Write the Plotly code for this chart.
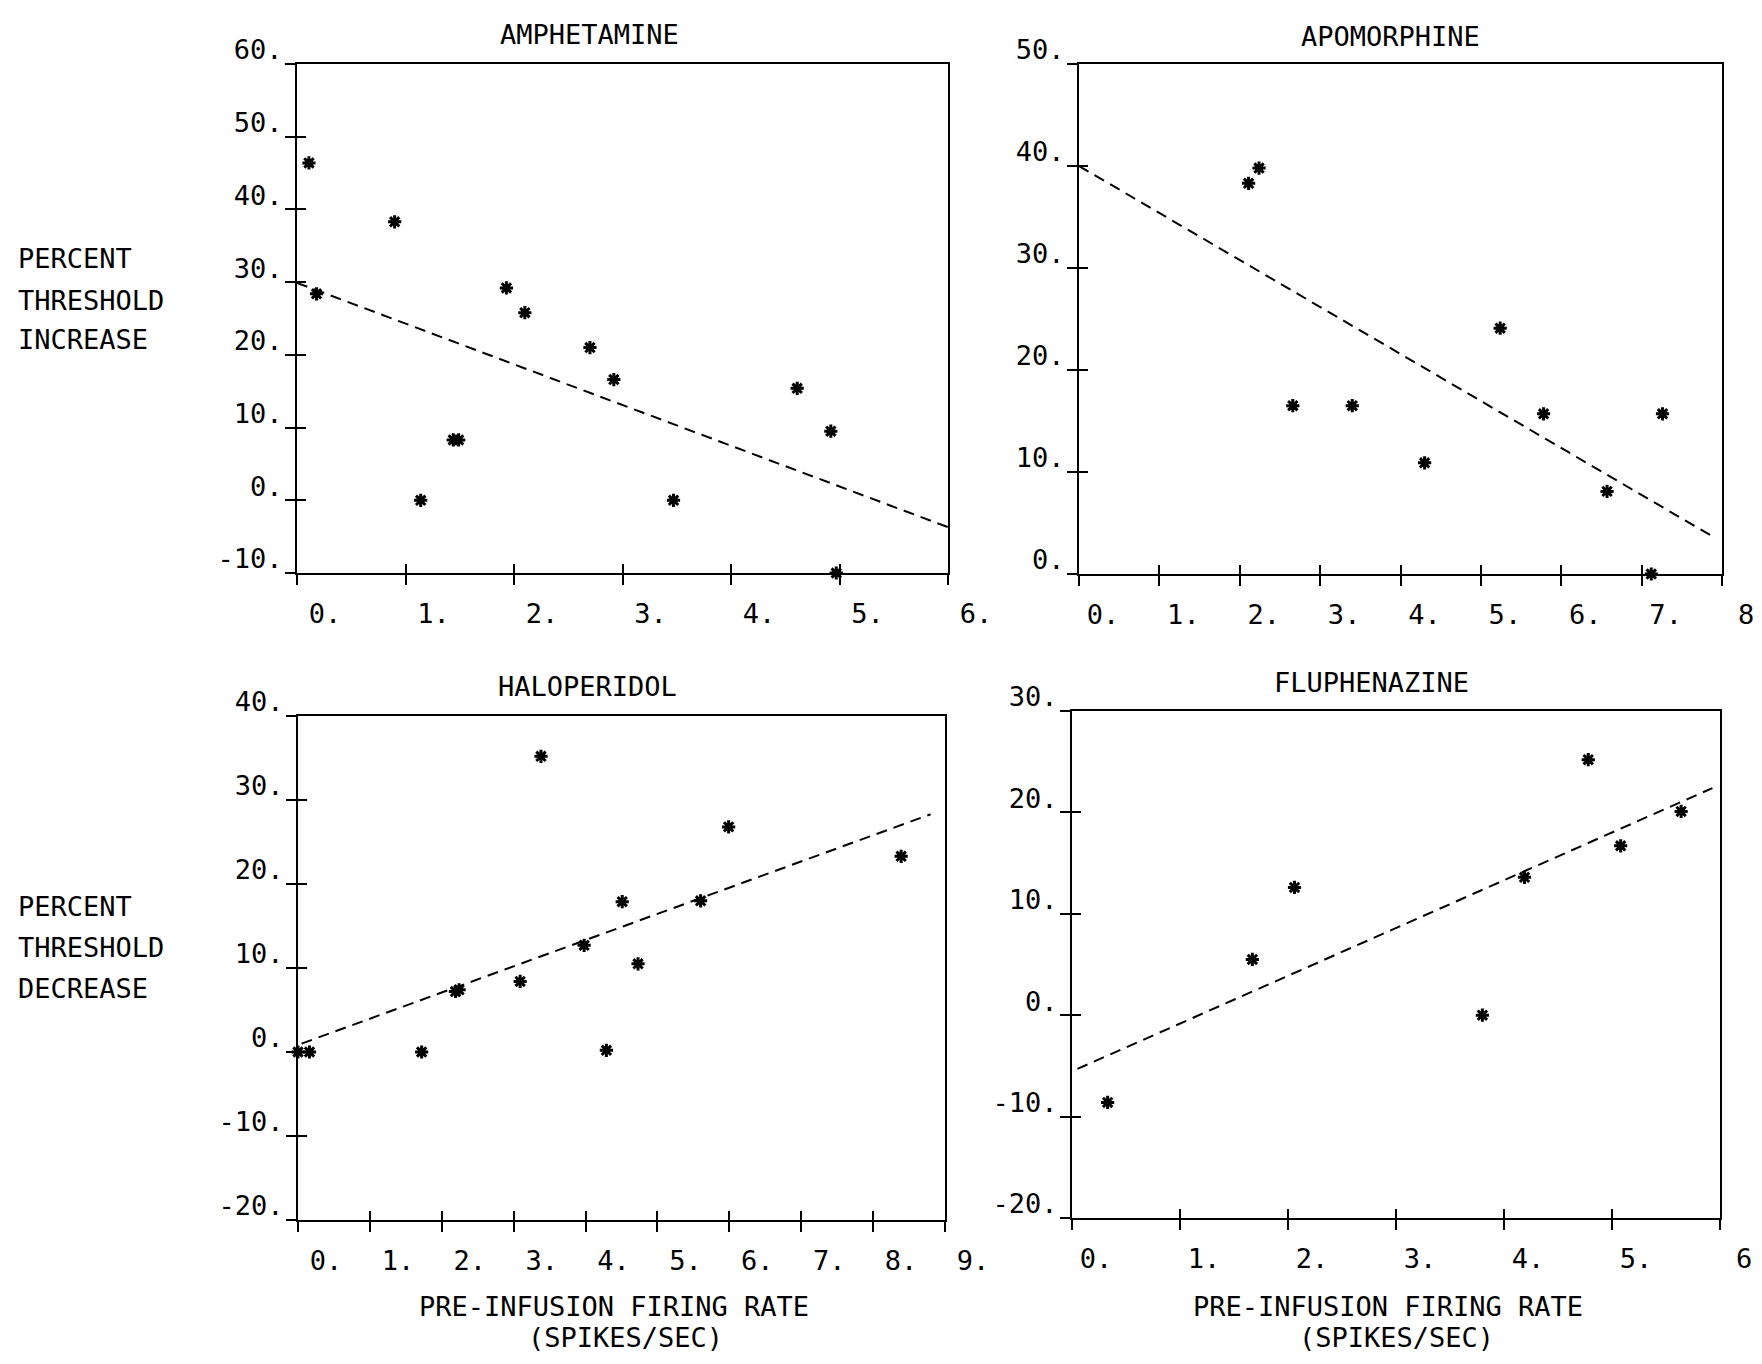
import plotly.graph_objects as go

# ---------------- data ----------------
amph_x = [0.11, 0.18, 0.90, 1.14, 1.44, 1.49, 1.93, 2.10, 2.70, 2.92, 3.47, 4.61, 4.92, 4.97]
amph_y = [46.4, 28.4, 38.3, 0.0, 8.3, 8.3, 29.2, 25.8, 21.0, 16.6, 0.0, 15.4, 9.5, -10.0]
amph_fit_x = [0.0, 6.0]
amph_fit_y = [29.9, -3.7]

apo_x = [2.11, 2.24, 2.66, 3.40, 4.30, 5.24, 5.78, 6.57, 7.12, 7.26]
apo_y = [38.3, 39.8, 16.5, 16.5, 10.9, 24.1, 15.7, 8.1, 0.0, 15.7]
apo_fit_x = [0.0, 7.9]
apo_fit_y = [40.0, 3.6]

halo_x = [0.0, 0.16, 1.72, 2.19, 2.24, 3.09, 3.38, 3.98, 4.29, 4.51, 4.73, 5.60, 5.99, 8.39]
halo_y = [0.0, 0.0, 0.0, 7.2, 7.4, 8.4, 35.2, 12.7, 0.2, 17.9, 10.5, 18.0, 26.8, 23.3]
halo_fit_x = [0.05, 8.8]
halo_fit_y = [1.0, 28.3]

flu_x = [0.33, 1.67, 2.06, 3.80, 4.19, 4.78, 5.08, 5.64]
flu_y = [-8.6, 5.5, 12.6, 0.0, 13.6, 25.2, 16.7, 20.1]
flu_fit_x = [0.05, 5.93]
flu_fit_y = [-5.3, 22.4]

titles = ["AMPHETAMINE", "APOMORPHINE", "HALOPERIDOL", "FLUPHENAZINE"]

amph_xticks = [0, 1, 2, 3, 4, 5, 6]
amph_xtext = ["0.", "1.", "2.", "3.", "4.", "5.", "6."]
amph_yticks = [-10, 0, 10, 20, 30, 40, 50, 60]
amph_ytext = ["-10.", "0.", "10.", "20.", "30.", "40.", "50.", "60."]

apo_xticks = [0, 1, 2, 3, 4, 5, 6, 7, 8]
apo_xtext = ["0.", "1.", "2.", "3.", "4.", "5.", "6.", "7.", "8"]
apo_yticks = [0, 10, 20, 30, 40, 50]
apo_ytext = ["0.", "10.", "20.", "30.", "40.", "50."]

halo_xticks = [0, 1, 2, 3, 4, 5, 6, 7, 8, 9]
halo_xtext = ["0.", "1.", "2.", "3.", "4.", "5.", "6.", "7.", "8.", "9."]
halo_yticks = [-20, -10, 0, 10, 20, 30, 40]
halo_ytext = ["-20.", "-10.", "0.", "10.", "20.", "30.", "40."]

flu_xticks = [0, 1, 2, 3, 4, 5, 6]
flu_xtext = ["0.", "1.", "2.", "3.", "4.", "5.", "6"]
flu_yticks = [-20, -10, 0, 10, 20, 30]
flu_ytext = ["-20.", "-10.", "0.", "10.", "20.", "30."]

ylabel_top = ["PERCENT", "THRESHOLD", "INCREASE"]
ylabel_bottom = ["PERCENT", "THRESHOLD", "DECREASE"]
xlabel_lines = ["PRE-INFUSION FIRING RATE", "(SPIKES/SEC)"]

# ---------------- layout helpers (page pixel -> paper) ----------------
PAGE_W, PAGE_H = 1762, 1364
OFF = 8                       # default body margin of the html page
FW, FH = PAGE_W - 2 * OFF, PAGE_H - 2 * OFF
FONT = "DejaVu Sans Mono, Liberation Mono, monospace"
FS = 27


def pxx(v):
    return (v - OFF) / FW


def pyy(v):
    return 1 - (v - OFF) / FH


def dx(a, b):
    return [pxx(a), pxx(b)]


def dy(top, bottom):
    return [pyy(bottom), pyy(top)]


panels = [
    dict(x=amph_x, y=amph_y, fx=amph_fit_x, fy=amph_fit_y, xr=[0, 6], yr=[-10, 60],
         xt=amph_xticks, xtt=amph_xtext, yt=amph_yticks, ytt=amph_ytext,
         px=(297, 948), py=(64, 573), title_xy=(589, 35), shift=28),
    dict(x=apo_x, y=apo_y, fx=apo_fit_x, fy=apo_fit_y, xr=[0, 8], yr=[0, 50],
         xt=apo_xticks, xtt=apo_xtext, yt=apo_yticks, ytt=apo_ytext,
         px=(1079, 1722), py=(64, 574), title_xy=(1390, 37), shift=24),
    dict(x=halo_x, y=halo_y, fx=halo_fit_x, fy=halo_fit_y, xr=[0, 9], yr=[-20, 40],
         xt=halo_xticks, xtt=halo_xtext, yt=halo_yticks, ytt=halo_ytext,
         px=(298, 945), py=(716, 1220), title_xy=(587, 686), shift=28),
    dict(x=flu_x, y=flu_y, fx=flu_fit_x, fy=flu_fit_y, xr=[0, 6], yr=[-20, 30],
         xt=flu_xticks, xtt=flu_xtext, yt=flu_yticks, ytt=flu_ytext,
         px=(1072, 1720), py=(711, 1218), title_xy=(1371, 682), shift=24),
]

fig = go.Figure()
layout = {}
annotations = []
tickfont = dict(family=FONT, size=FS, color="black")

for i, p in enumerate(panels):
    n = i + 1
    m = i + 5
    xa, ya = f"x{n if n > 1 else ''}", f"y{n if n > 1 else ''}"
    xo, yo = f"x{m}", f"y{m}"
    xdom, ydom = dx(*p["px"]), dy(*p["py"])

    fig.add_trace(go.Scatter(x=p["fx"], y=p["fy"], mode="lines", xaxis=xa, yaxis=ya,
                             line=dict(color="black", width=2, dash="11px,7px"),
                             showlegend=False, hoverinfo="skip"))
    fig.add_trace(go.Scatter(x=p["x"], y=p["y"], mode="markers", xaxis=xa, yaxis=ya,
                             marker=dict(symbol="asterisk-open", size=11, color="black",
                                         line=dict(color="black", width=3)),
                             cliponaxis=False, showlegend=False))
    # invisible trace on overlay axes that carry the inner half of the crossing ticks
    fig.add_trace(go.Scatter(x=[p["xr"][0]], y=[p["yr"][0]], mode="markers", xaxis=xo, yaxis=yo,
                             marker=dict(opacity=0), showlegend=False, hoverinfo="skip"))

    layout[f"xaxis{n if n > 1 else ''}"] = dict(
        domain=xdom, anchor=ya, range=p["xr"], tickmode="array", tickvals=p["xt"], ticktext=p["xtt"],
        showgrid=False, zeroline=False, showline=True, linecolor="black", linewidth=2, mirror=True,
        ticks="outside", ticklen=10, tickwidth=2, tickcolor="black", tickfont=tickfont,
        ticklabelshift=p["shift"], ticklabelstandoff=6, ticklabeloverflow="allow",
        automargin=False, fixedrange=True)
    layout[f"yaxis{n if n > 1 else ''}"] = dict(
        domain=ydom, anchor=xa, range=p["yr"], tickmode="array", tickvals=p["yt"], ticktext=p["ytt"],
        showgrid=False, zeroline=False, showline=True, linecolor="black", linewidth=2, mirror=True,
        ticks="outside", ticklen=10, tickwidth=2, tickcolor="black", tickfont=tickfont,
        ticklabelshift=-14, ticklabelstandoff=-3, ticklabeloverflow="allow",
        automargin=False, fixedrange=True)
    layout[f"xaxis{m}"] = dict(
        domain=xdom, anchor=yo, overlaying=xa, range=p["xr"], tickmode="array", tickvals=p["xt"],
        showticklabels=False, showgrid=False, zeroline=False, showline=False,
        ticks="inside", ticklen=9, tickwidth=2, tickcolor="black", automargin=False, fixedrange=True)
    layout[f"yaxis{m}"] = dict(
        domain=ydom, anchor=xo, overlaying=ya, range=p["yr"], tickmode="array", tickvals=p["yt"],
        showticklabels=False, showgrid=False, zeroline=False, showline=False,
        ticks="inside", ticklen=9, tickwidth=2, tickcolor="black", automargin=False, fixedrange=True)

    tx, ty = p["title_xy"]
    annotations.append(dict(text=titles[i], x=pxx(tx), y=pyy(ty), xref="paper", yref="paper",
                            xanchor="center", yanchor="middle", showarrow=False,
                            font=dict(family=FONT, size=FS, color="black")))

# side labels
for lines, ys in ((ylabel_top, (258, 300, 340)), (ylabel_bottom, (906, 947, 988))):
    for txt, yy in zip(lines, ys):
        annotations.append(dict(text=txt, x=pxx(16), y=pyy(yy), xref="paper", yref="paper",
                                xanchor="left", yanchor="middle", showarrow=False,
                                font=dict(family=FONT, size=FS, color="black")))

# x-axis caption under each lower panel
for centers in ((614, 625), (1388, 1396)):
    for txt, cx, yy in zip(xlabel_lines, centers, (1306, 1337)):
        annotations.append(dict(text=txt, x=pxx(cx), y=pyy(yy), xref="paper", yref="paper",
                                xanchor="center", yanchor="middle", showarrow=False,
                                font=dict(family=FONT, size=FS, color="black")))

fig.update_layout(**layout)
fig.update_layout(width=FW, height=FH, margin=dict(l=0, r=0, t=0, b=0, pad=0),
                  paper_bgcolor="white", plot_bgcolor="white", showlegend=False,
                  annotations=annotations, font=dict(family=FONT, size=FS, color="black"))

fig.write_html("out.html")
